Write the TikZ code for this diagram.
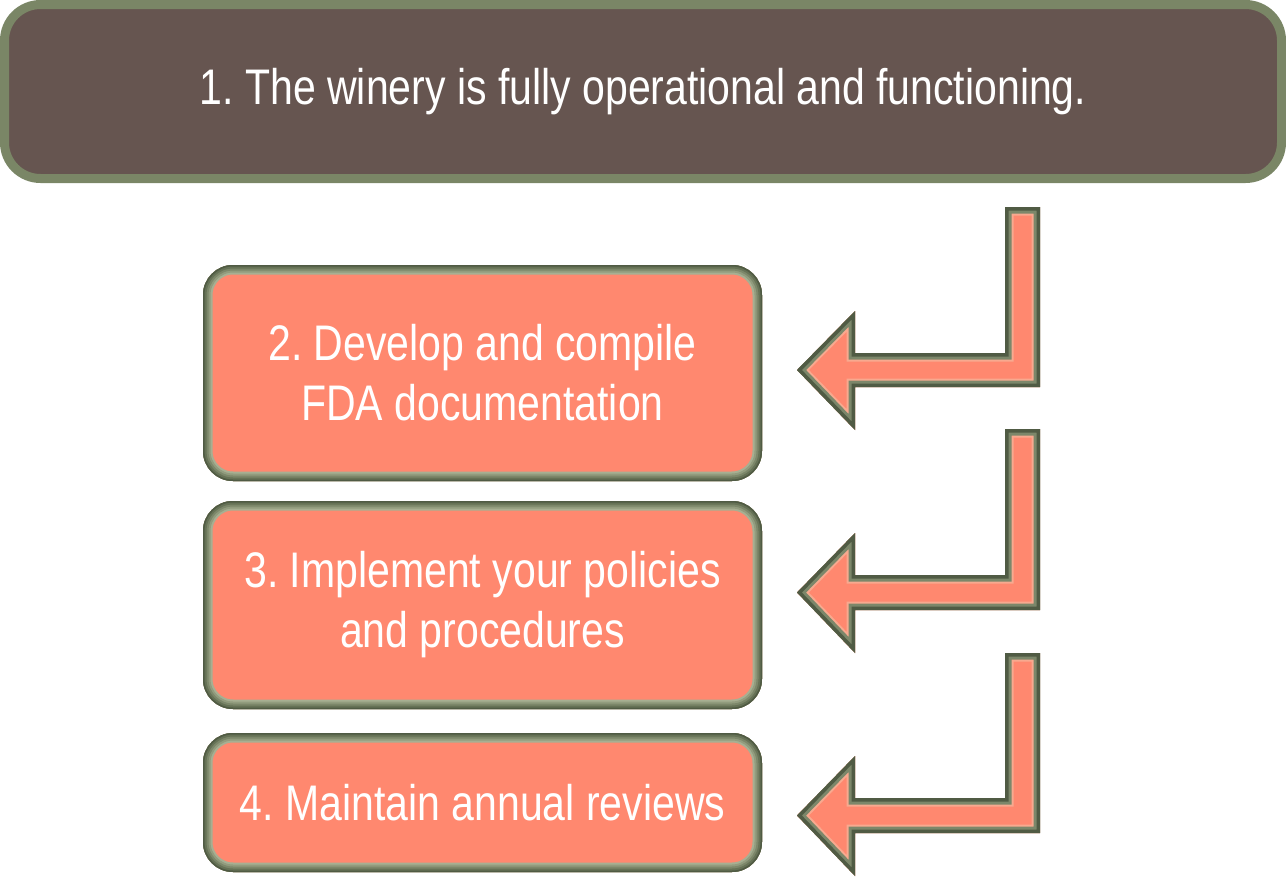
\documentclass[tikz,border=0pt]{standalone}
\usepackage{fontspec}
\setmainfont{Liberation Sans}[FakeStretch=0.82]
\usetikzlibrary{calc}
\frenchspacing
\definecolor{salmonfill}{HTML}{FF886F}
\definecolor{brownfill}{HTML}{665550}
\definecolor{topedge}{HTML}{7A8666}
\definecolor{bevA}{HTML}{A7AF92}
\definecolor{bevB}{HTML}{929C7E}
\definecolor{bevC}{HTML}{7C876A}
\definecolor{bevD}{HTML}{667256}
\definecolor{bevE}{HTML}{505B44}
\definecolor{arrhigh}{HTML}{F8A98F}
\tikzset{
  toptitle/.style={rounded corners=36pt, fill=brownfill, draw=topedge, line width=9pt,
    minimum width=1277pt, minimum height=174pt, text=white, inner sep=0pt,
    font=\frenchspacing\fontsize{50}{60}\selectfont},
  bevring/.style={rounded corners=30pt, line width=#1},
  stepbox/.style={rounded corners=30pt, fill=salmonfill, minimum width=559pt,
    text=white, align=center, inner sep=0pt, font=\frenchspacing\fontsize{50}{60}\selectfont,
    path picture={
      \draw[bevring=19pt, draw=bevA] (path picture bounding box.south west) rectangle (path picture bounding box.north east);
      \draw[bevring=15pt, draw=bevB] (path picture bounding box.south west) rectangle (path picture bounding box.north east);
      \draw[bevring=11pt, draw=bevC] (path picture bounding box.south west) rectangle (path picture bounding box.north east);
      \draw[bevring=7pt, draw=bevD] (path picture bounding box.south west) rectangle (path picture bounding box.north east);
      \draw[bevring=3pt, draw=bevE] (path picture bounding box.south west) rectangle (path picture bounding box.north east);
    }},
  arrowhigh/.style={draw=arrhigh, line width=17pt, line join=miter},
  arrowmid/.style={draw=bevC, line width=13pt, line join=miter},
  arrowdark/.style={draw=bevE, line width=7pt, line join=miter},
}
\newcommand{\bentarrow}[4]{%
  % #1 top of vertical bar, #2 top of horizontal bar, #3 bottom of horizontal bar, #4 name
  \coordinate (#4top) at (1022.5,#1);
  \begin{scope}
    \clip (1040,#1) -- (1040,#3) -- (855,#3) -- ($(855,#3)+(0,43)$) -- ($(797,#2)!0.5!(797,#3)$)
      -- ($(855,#2)+(0,-42)$) -- (855,#2) -- (1005,#2) -- (1005,#1) -- cycle;
    \fill[salmonfill] (1040,#1) -- (1040,#3) -- (855,#3) -- ($(855,#3)+(0,43)$) -- ($(797,#2)!0.5!(797,#3)$)
      -- ($(855,#2)+(0,-42)$) -- (855,#2) -- (1005,#2) -- (1005,#1) -- cycle;
    \foreach \sty in {arrowhigh,arrowmid,arrowdark}{
      \draw[\sty] (1040,#1) -- (1040,#3) -- (855,#3) -- ($(855,#3)+(0,43)$) -- ($(797,#2)!0.5!(797,#3)$)
        -- ($(855,#2)+(0,-42)$) -- (855,#2) -- (1005,#2) -- (1005,#1) -- cycle;
    }
  \end{scope}}
\begin{document}
\begin{tikzpicture}[x=1pt,y=-1pt]
\useasboundingbox (0,0) rectangle (1286,879);
\node[toptitle] (t1) at (643,91.5) {1. The winery is fully operational and functioning.};
\node[stepbox, minimum height=216pt] (s2) at (482.5,373) {2. Develop and compile\\FDA documentation};
\node[stepbox, minimum height=208pt] (s3) at (482.5,605) {3. Implement your policies\\and procedures};
\node[stepbox, minimum height=139pt] (s4) at (482.5,802.5) {4. Maintain annual reviews};
\bentarrow{207}{353}{387}{a1}
\bentarrow{429}{575}{610}{a2}
\bentarrow{653}{798}{833}{a3}
\end{tikzpicture}
\end{document}
